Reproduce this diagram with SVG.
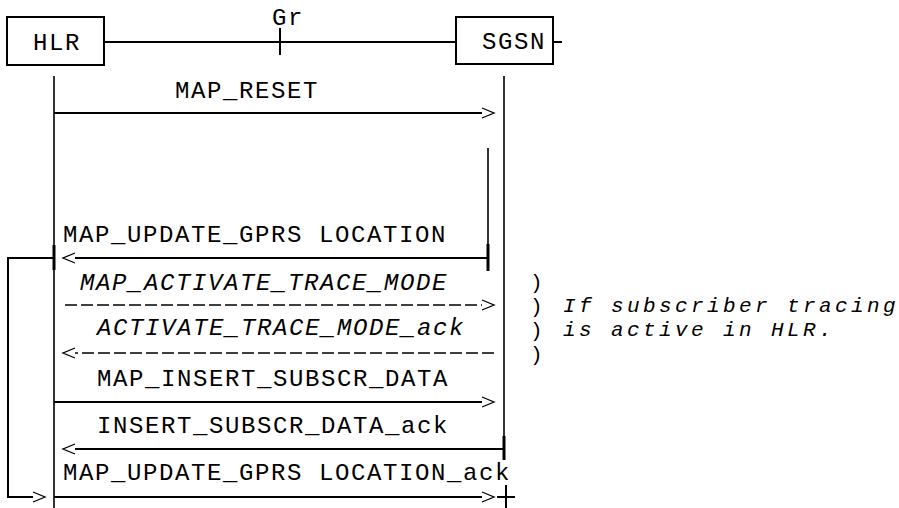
<svg xmlns="http://www.w3.org/2000/svg" width="899" height="508" viewBox="0 0 899 508">
<style>
.t{font-family:"Liberation Mono","Courier New",monospace;font-size:24px;letter-spacing:1.6px;fill:#000}
.n{font-family:"Liberation Mono","Courier New",monospace;font-size:21px;letter-spacing:3.4px;fill:#000}
.i{font-style:italic}
.box{fill:none;stroke:#000;stroke-width:2}
.life{fill:none;stroke:#000;stroke-width:1.6}
.msg{fill:none;stroke:#000;stroke-width:2}
.dash{fill:none;stroke:#000;stroke-width:1.5;stroke-dasharray:12 4}
</style>
<defs>
<marker id="ah" markerUnits="userSpaceOnUse" markerWidth="14" markerHeight="12" refX="0" refY="6" orient="auto" overflow="visible">
<path d="M0,1 L12,6 L0,11" fill="none" stroke="#000" stroke-width="1.3"/>
</marker>
</defs>
<rect width="899" height="508" fill="#fff"/>
<g id="HLR">
<rect class="box" x="7" y="17" width="97" height="48"/>
<text class="t" x="33" y="50">HLR</text>
</g>
<g id="SGSN">
<rect class="box" x="456" y="17" width="97" height="47"/>
<text class="t" x="482" y="49">SGSN</text>
</g>
<g id="Gr">
<text class="t" x="272" y="25">Gr</text>
</g>
<g id="notes">
<text class="n" x="530" y="289">)</text>
<text class="n" x="530" y="313">)</text>
<text class="n" x="530" y="337">)</text>
<text class="n" x="530" y="361">)</text>
<text class="n i" x="563" y="312">If subscriber tracing</text>
<text class="n i" x="563" y="336">is active in HLR.</text>
</g>
<g id="labels">
<text class="t" x="175" y="98">MAP_RESET</text>
<text class="t" x="63" y="242">MAP_UPDATE_GPRS LOCATION</text>
<text class="t i" x="80" y="290">MAP_ACTIVATE_TRACE_MODE</text>
<text class="t i" x="97" y="335">ACTIVATE_TRACE_MODE_ack</text>
<text class="t" x="97" y="386">MAP_INSERT_SUBSCR_DATA</text>
<text class="t" x="97" y="433">INSERT_SUBSCR_DATA_ack</text>
<text class="t" x="63" y="480">MAP_UPDATE_GPRS LOCATION_ack</text>
</g>
<g id="connectors">
<line class="msg" x1="104" y1="42" x2="456" y2="42"/>
<line class="msg" x1="280" y1="28" x2="280" y2="55"/>
<line class="msg" x1="553" y1="42" x2="562" y2="42"/>
<line class="life" x1="54" y1="76" x2="54" y2="508"/>
<line class="life" x1="504" y1="76" x2="504" y2="459"/>
<line class="life" x1="488" y1="148" x2="488" y2="271"/>
<line stroke="#000" stroke-width="3" x1="488" y1="244" x2="488" y2="271"/>
<line stroke="#000" stroke-width="3" x1="54" y1="245" x2="54" y2="270"/>
<line stroke="#000" stroke-width="3" x1="504" y1="436" x2="504" y2="460"/>
<line class="msg" x1="54" y1="113" x2="482" y2="113" marker-end="url(#ah)"/>
<line class="msg" x1="488" y1="258" x2="75" y2="258" marker-end="url(#ah)"/>
<path class="msg" d="M54,258 H8 V497 H33" marker-end="url(#ah)"/>
<line class="dash" x1="65" y1="305" x2="482" y2="305" marker-end="url(#ah)"/>
<line class="dash" x1="494" y1="353" x2="75" y2="353" marker-end="url(#ah)"/>
<line class="msg" x1="54" y1="402" x2="482" y2="402" marker-end="url(#ah)"/>
<line class="msg" x1="504" y1="449" x2="75" y2="449" marker-end="url(#ah)"/>
<line class="msg" x1="54" y1="497" x2="482" y2="497" marker-end="url(#ah)"/>
<line class="msg" x1="497" y1="497" x2="515" y2="497"/>
<line class="msg" x1="506" y1="485" x2="506" y2="508"/>
</g>
</svg>
